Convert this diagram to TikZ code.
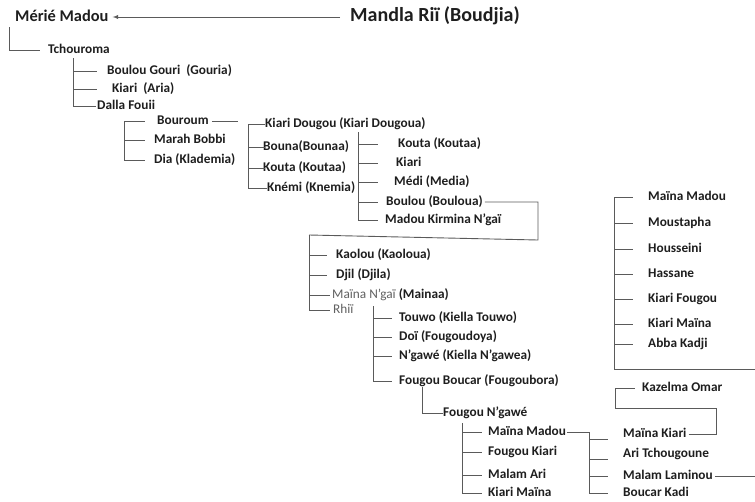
\documentclass[tikz,border=0pt]{standalone}
\usepackage{fontspec}
\setmainfont{Carlito}
\usetikzlibrary{arrows}
\definecolor{inkname}{HTML}{1E1E1E}
\definecolor{inkline}{HTML}{5A5A5A}
\definecolor{inkfaint}{HTML}{606060}
\tikzset{
  person/.style={ % a name of the tree
    anchor=west, inner xsep=0pt, inner ysep=0pt, text=inkname,
    font=\bfseries\fontsize{13.3}{16}\selectfont,
    text height=9pt, text depth=2pt
  },
  faint/.style={ % a name set in the light face
    person, font=\fontsize{13.3}{16}\selectfont, text=inkfaint
  },
  head/.style={ % the two names of the top line
    person, text height=12pt, text depth=3pt
  },
  link/.style={ % a line of the tree
    draw=inkline, line width=0.9pt
  }
}
\begin{document}
\begin{tikzpicture}[x=1pt, y=-1pt]
  \useasboundingbox (0,0) rectangle (755,501);

  % top line
  \node[head, font=\bfseries\fontsize{16.4}{20}\selectfont] (merie) at (15,17) {Mérié Madou};
  \node[head, font=\bfseries\fontsize{20}{24}\selectfont] (mandla) at (350,17) {Mandla Riï (Boudjia)};
  \draw[link, -latex] ([xshift=-10pt]mandla.west) -- ([xshift=4pt]merie.east);

  % Tchouroma
  \coordinate (t0) at (9,27);
  \node[person] (tchouroma) at (48,50) {Tchouroma};
  \draw[link] (t0) |- ([xshift=-8pt]tchouroma.west);

  \coordinate (t1) at (73,58);
  \node[person] (gouria) at (107,71) {Boulou Gouri\ \ (Gouria)};
  \node[person] (aria) at (112,89) {Kiari\ \ (Aria)};
  \node[person] (dalla) at (97,106) {Dalla Fouii};
  \draw[link] (t1) |- ([xshift=-10pt]gouria.west);
  \draw[link] (t1) |- ([xshift=-15pt]aria.west);
  \draw[link] (t1) |- ([xshift=-1pt]dalla.west);

  % Dalla Fouii
  \coordinate (t2) at (124,121);
  \coordinate (b1) at (238,121);
  \node[person] (bouroum) at (157,121) {Bouroum};
  \node[person] (marah) at (154,140) {Marah Bobbi};
  \node[person] (dia) at (154,160) {Dia (Klademia)};
  \draw[link] (t2) |- ([xshift=-12pt]bouroum.west);
  \draw[link] (t2) |- ([xshift=-9pt]marah.west);
  \draw[link] (t2) |- ([xshift=-9pt]dia.west);
  \draw[link] ([xshift=3pt]bouroum.east) -- (b1);

  \coordinate (t3) at (248,124);
  \node[person] (dougou) at (265,124) {Kiari Dougou (Kiari Dougoua)};
  \node[person] (bouna) at (263,147) {Bouna(Bounaa)};
  \node[person] (kouta) at (263,168) {Kouta (Koutaa)};
  \node[person] (knemi) at (267,188) {Knémi (Knemia)};
  \draw[link] (t3) |- (dougou.west);
  \draw[link] (t3) |- ([xshift=2pt]bouna.west);
  \draw[link] (t3) |- ([xshift=2pt]kouta.west);
  \draw[link] (t3) |- (knemi.west);

  \coordinate (t4) at (358,132);
  \node[person] (koutab) at (398,144) {Kouta (Koutaa)};
  \node[person] (kiari) at (396,163) {Kiari};
  \node[person] (medi) at (394,182) {Médi (Media)};
  \node[person] (bouloua) at (386,202) {Boulou (Bouloua)};
  \node[person] (kirmina) at (385,220) {Madou Kirmina N’gaï};
  \draw[link] (t4) |- ([xshift=-20pt]koutab.west);
  \draw[link] (t4) |- ([xshift=-18pt]kiari.west);
  \draw[link] (t4) |- ([xshift=-16pt]medi.west);
  \draw[link] (t4) |- ([xshift=-8pt]bouloua.west);
  \draw[link] (t4) |- ([xshift=-7pt]kirmina.west);

  % Boulou (Bouloua) down to Kaolou
  \coordinate (c1) at (538,240);
  \coordinate (t5) at (309,235);
  \draw[link] ([xshift=2pt]bouloua.east) -| (c1) -- (t5);

  \node[person] (kaolou) at (336,255) {Kaolou (Kaoloua)};
  \node[person] (djil) at (336,275) {Djil (Djila)};
  \node[faint] (naina) at (332,295) {Maïna N’gaï {\bfseries\color{inkname}(Mainaa)}};
  \node[faint] (rhii) at (333,310) {Rhiï};
  \draw[link] (t5) |- ([xshift=-9pt]kaolou.west);
  \draw[link] (t5) |- ([xshift=-9pt]djil.west);
  \draw[link] (t5) |- ([xshift=-2pt]naina.west);
  \draw[link] (t5) |- ([xshift=-3pt]rhii.west);

  % Rhiï
  \coordinate (t6) at (373,306);
  \node[person] (touwo) at (399,318) {Touwo (Kiella Touwo)};
  \node[person] (doi) at (399,337) {Doï (Fougoudoya)};
  \node[person] (ngawe) at (399,356) {N’gawé (Kiella N’gawea)};
  \node[person] (boucar) at (399,381) {Fougou Boucar (Fougoubora)};
  \foreach \n in {touwo,doi,ngawe,boucar}
    \draw[link] (t6) |- ([xshift=-7pt]\n.west);

  \coordinate (t7) at (422,387);
  \node[person] (fngawe) at (443,413) {Fougou N’gawé};
  \draw[link] (t7) |- (fngawe.west);

  % Fougou N'gawé
  \coordinate (t8) at (462,423);
  \node[person] (mmadou) at (488,432) {Maïna Madou};
  \node[person] (fkiari) at (488,452) {Fougou Kiari};
  \node[person] (malam) at (488,475) {Malam Ari};
  \node[person] (kmaina) at (488,493) {Kiari Maïna};
  \foreach \n in {mmadou,fkiari,malam,kmaina}
    \draw[link] (t8) |- ([xshift=-6pt]\n.west);

  % Maïna Madou
  \coordinate (t9) at (589,432);
  \node[person] (mkiari) at (623,434) {Maïna Kiari};
  \node[person] (ari) at (623,454) {Ari Tchougoune};
  \node[person] (laminou) at (623,476) {Malam Laminou};
  \node[person] (kadi) at (623,493) {Boucar Kadi};
  \draw[link] ([xshift=1pt]mmadou.east) -- (t9);
  \draw[link] (t9) |- ([xshift=-15pt,yshift=-5pt]mkiari.west);
  \draw[link] (t9) |- ([xshift=-15pt,yshift=-5pt]ari.west);
  \draw[link] (t9) |- ([xshift=-15pt]laminou.west);
  \draw[link] (t9) |- ([xshift=-15pt]kadi.west);

  \coordinate (e1) at (755,476);
  \draw[link] ([xshift=2pt]laminou.east) -- (e1);

  % Kazelma Omar
  \coordinate (c2) at (716,408);
  \coordinate (c3) at (615,388);
  \node[person] (kazelma) at (642,388) {Kazelma Omar};
  \draw[link] ([xshift=2pt]mkiari.east) -| (c2) -| (c3) -- ([xshift=-7pt]kazelma.west);

  % right column
  \coordinate (t10) at (614,197);
  \coordinate (e2) at (755,369);
  \node[person] (rmadou) at (648,197) {Maïna Madou};
  \node[person] (moustapha) at (648,223) {Moustapha};
  \node[person] (housseini) at (648,249) {Housseini};
  \node[person] (hassane) at (648,274) {Hassane};
  \node[person] (kfougou) at (648,299) {Kiari Fougou};
  \node[person] (rmaina) at (648,324) {Kiari Maïna};
  \node[person] (abba) at (648,344) {Abba Kadji};
  \foreach \n in {rmadou,moustapha,housseini,hassane,kfougou,rmaina,abba}
    \draw[link] (t10) |- ([xshift=-15pt]\n.west);
  \draw[link] (t10) |- (e2);
\end{tikzpicture}
\end{document}
